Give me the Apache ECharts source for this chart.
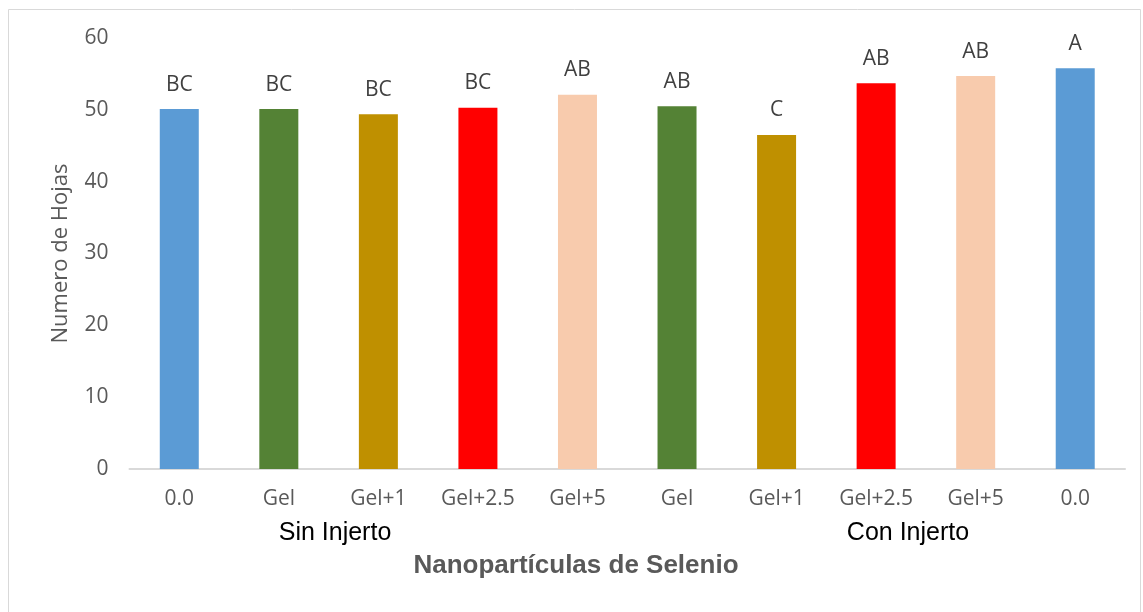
<!DOCTYPE html>
<html>
<head>
<meta charset="utf-8">
<script src="https://cdn.jsdelivr.net/npm/echarts@6/dist/echarts.min.js"></script>
<style>
  html, body { margin: 0; padding: 0; background: #fff; }
  #chart { width: 1143px; height: 612px; }
</style>
</head>
<body>
<div id="chart"></div>
<script>
// Treatments (selenium nanoparticle doses), without and with graft
const categories = ['0.0', 'Gel', 'Gel+1', 'Gel+2.5', 'Gel+5', 'Gel', 'Gel+1', 'Gel+2.5', 'Gel+5', '0.0'];
const leafCounts = [50.1, 50.1, 49.4, 50.3, 52.1, 50.5, 46.5, 53.7, 54.7, 55.8];
const groupLetters = ['BC', 'BC', 'BC', 'BC', 'AB', 'AB', 'C', 'AB', 'AB', 'A'];
const barColors = ['#5b9bd5', '#548235', '#bf9000', '#ff0000', '#f8cbad',
                   '#548235', '#bf9000', '#ff0000', '#f8cbad', '#5b9bd5'];
const groupNames = ['Sin Injerto', 'Con Injerto'];
const yTicks = { min: 0, max: 60, interval: 10 };

const chart = echarts.init(document.getElementById('chart'), null, { renderer: 'canvas' });

const font = '"Open Sans", "Noto Sans", sans-serif';

chart.setOption({
  animation: false,
  backgroundColor: '#ffffff',
  grid: { left: 129.5, right: 18, top: 38, bottom: 143, containLabel: false },
  xAxis: {
    type: 'category',
    data: categories,
    axisLine: { show: true, lineStyle: { color: '#d9d9d9', width: 2 } },
    axisTick: { show: false },
    axisLabel: { color: '#595959', fontFamily: font, fontSize: 21, margin: 20 }
  },
  yAxis: {
    type: 'value',
    min: yTicks.min,
    max: yTicks.max,
    interval: yTicks.interval,
    axisLine: { show: false },
    axisTick: { show: false },
    splitLine: { show: false },
    axisLabel: { color: '#595959', fontFamily: font, fontSize: 21, margin: 21 },
    name: 'Numero de Hojas',
    nameLocation: 'middle',
    nameGap: 58,
    nameTextStyle: { color: '#595959', fontFamily: font, fontSize: 22 }
  },
  series: [{
    type: 'bar',
    barWidth: 39,
    data: leafCounts.map((v, i) => ({ value: v, itemStyle: { color: barColors[i] } })),
    label: {
      show: true,
      position: 'top',
      distance: 14,
      color: '#404040',
      fontFamily: font,
      fontSize: 21,
      formatter: p => groupLetters[p.dataIndex]
    }
  }],
  graphic: [
    {
      type: 'rect',
      shape: { x: 8.5, y: 9.5, width: 1132, height: 620 },
      style: { fill: 'none', stroke: '#d9d9d9', lineWidth: 1 },
      silent: true
    },
    {
      type: 'text', x: 335, y: 533,
      style: { text: groupNames[0], fill: '#000000', font: '25px "Liberation Sans", Arial, sans-serif', textAlign: 'center', textVerticalAlign: 'middle' }
    },
    {
      type: 'text', x: 908, y: 533,
      style: { text: groupNames[1], fill: '#000000', font: '25px "Liberation Sans", Arial, sans-serif', textAlign: 'center', textVerticalAlign: 'middle' }
    },
    {
      type: 'text', x: 576, y: 566,
      style: { text: 'Nanopartículas de Selenio', fill: '#595959', font: 'bold 26px "Liberation Sans", Arial, sans-serif', textAlign: 'center', textVerticalAlign: 'middle' }
    }
  ]
});
</script>
</body>
</html>
